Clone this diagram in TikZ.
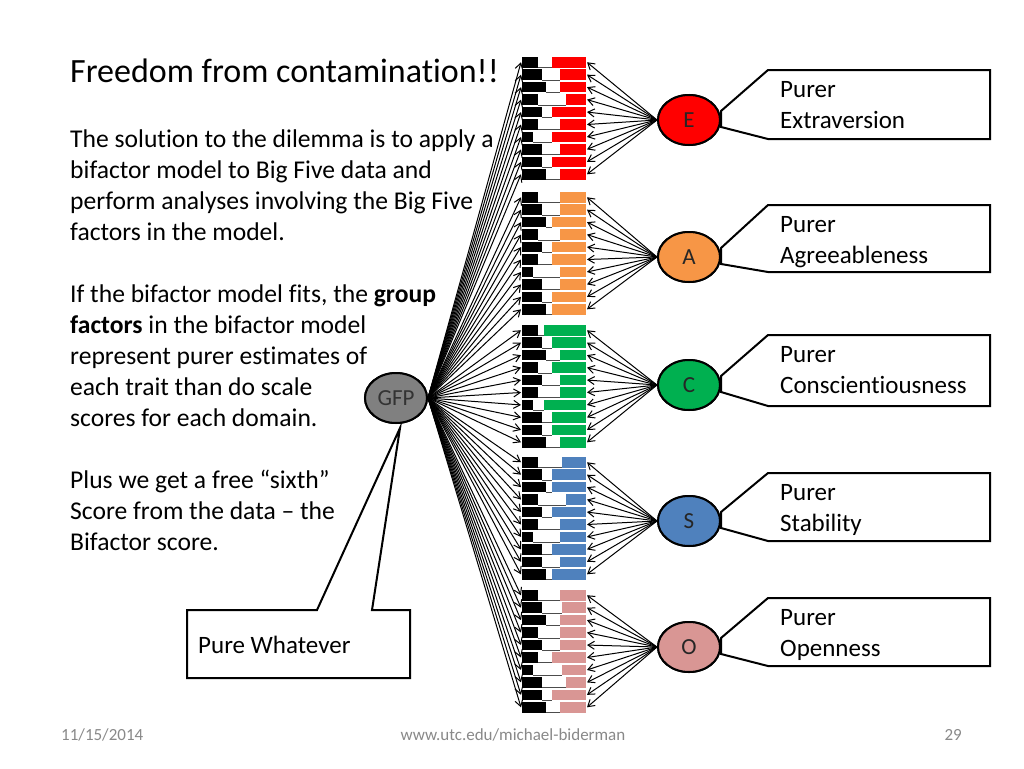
\documentclass[tikz,border=0pt]{standalone}
\usepackage{fontspec}
\setmainfont{Carlito}[Ligatures=NoCommon]
\usetikzlibrary{arrows.meta,calc,shapes.geometric}
\definecolor{cE}{HTML}{FF0000}
\definecolor{cA}{HTML}{F79646}
\definecolor{cC}{HTML}{00B050}
\definecolor{cS}{HTML}{4F81BD}
\definecolor{cO}{HTML}{D99694}
\definecolor{gfpgray}{HTML}{808080}
\definecolor{footgray}{HTML}{898989}
\tikzset{
  body/.style={anchor=base west,inner sep=0pt,font=\fontsize{25.6}{31}\selectfont},
  factor/.style={ellipse,draw=black,line width=2pt,minimum width=62pt,minimum height=50pt,inner sep=0pt,font=\fontsize{23}{26}\selectfont},
  load/.style={line width=1pt,-{Straight Barb[length=6.5pt,width=8pt]}},
  callout/.style={draw=black,line width=2pt,fill=white,line join=miter},
  calltext/.style={anchor=base west,inner sep=0pt,font=\fontsize{25}{30}\selectfont},
  foot/.style={anchor=base,inner sep=0pt,text=footgray,font=\fontsize{17}{20}\selectfont}
}
\newcommand\drawgroup[4]{%
  \foreach \i/\b/\c in {#4}{%
    \pgfmathsetmacro\yy{#2+\i*12.45}%
    \fill[white] (522,\yy) rectangle (586,\yy+10.5);
    \fill[black] (522,\yy) rectangle (522+\b,\yy+10.5);
    \fill[#3] (522+\c,\yy) rectangle (586,\yy+10.5);
    \draw[black!70,line width=0.6pt] (522+\b,\yy+10.5) -- (522+\c,\yy+10.5);
    \coordinate (#1L\i) at (521,\yy+5.25);
    \coordinate (#1R\i) at (587,\yy+5.25);
  }%
}
\begin{document}
\begin{tikzpicture}[x=1pt,y=-1pt]
\useasboundingbox[fill=white] (0,0) rectangle (1024,768);

% left text
\node[anchor=base west,inner sep=0pt,font=\fontsize{34}{40}\selectfont] (title) at (70,82) {Freedom from contamination!!};
\node[body] (p1) at (70,147) {The solution to the dilemma is to apply a};
\node[body] (p2) at (70,178) {bifactor model to Big Five data and};
\node[body] (p3) at (70,209) {perform analyses involving the Big Five};
\node[body] (p4) at (70,240) {factors in the model.};
\node[body] (q1) at (70,302) {If the bifactor model fits, the \textbf{group}};
\node[body] (q2) at (70,333) {\textbf{factors} in the bifactor model};
\node[body] (q3) at (70,364) {represent purer estimates of};
\node[body] (q4) at (70,395) {each trait than do scale};
\node[body] (q5) at (70,426) {scores for each domain.};
\node[body] (r1) at (70,488) {Plus we get a free “sixth”};
\node[body] (r2) at (70,519) {Score from the data – the};
\node[body] (r3) at (70,550) {Bifactor score.};

% factor nodes
\node[factor,fill=gfpgray,text=black!80] (GFP) at (396,398) {};
\node[factor,fill=cE] (E) at (689,120) {};
\node[factor,fill=cA] (A) at (689,257) {};
\node[factor,fill=cC] (C) at (689,385) {};
\node[factor,fill=cS] (S) at (689,521) {};
\node[factor,fill=cO] (O) at (689,647) {};

% items
\drawgroup{E}{57}{cE}{0/16/30,1/20/38,2/24/38,3/16/44,4/20/30,5/16/38,6/11/30,7/20/38,8/20/30,9/24/38}
\drawgroup{A}{192}{cA}{0/16/38,1/20/38,2/24/30,3/16/38,4/20/30,5/16/30,6/11/38,7/20/38,8/20/30,9/24/30}
\drawgroup{C}{325}{cC}{0/16/22,1/20/30,2/24/38,3/16/30,4/20/38,5/16/38,6/11/22,7/20/30,8/20/30,9/24/38}
\drawgroup{S}{457}{cS}{0/16/40,1/20/30,2/24/30,3/16/44,4/20/30,5/16/38,6/11/38,7/20/30,8/20/38,9/24/30}
\drawgroup{O}{590}{cO}{0/16/38,1/20/40,2/24/38,3/16/38,4/20/38,5/16/30,6/11/40,7/20/44,8/20/30,9/24/38}

% loadings
\foreach \g in {E,A,C,S,O}{
  \foreach \i in {0,...,9}{
    \draw[load] (GFP.east) -- (\g L\i);
    \draw[load] (\g.west) -- (\g R\i);
  }
}
% nodes drawn on top of the connectors
\node[factor,fill=gfpgray,text=black!80] (GFPlabel) at (GFP) {GFP};
\foreach \g/\c in {E/cE,A/cA,C/cC,S/cS,O/cO}{
  \node[factor,fill=\c,text=black!85] (\g label) at (\g) {\g};
}

% callouts for factors
\foreach \g/\t/\b/\txt in {E/70/139/Extraversion,A/205/272/Agreeableness,C/335/406/Conscientiousness,S/473/541/Stability,O/598/666/Openness}{
  \draw[callout] (768,\t) -- (990,\t) -- (990,\b) -- (768,\b) -- ($(\g.east)+(0,7)$) -- ($(\g.east)+(0,-9)$) -- cycle;
  \node[calltext] (\g box1) at (780,\t+27) {Purer};
  \node[calltext] (\g box2) at (780,\t+58) {\txt};
}

% Pure Whatever callout
\draw[callout] (187,610) -- (317,610) -- ($(GFP.south)+(4,4)$) -- (372,610) -- (410,610) -- (410,678) -- (187,678) -- cycle;
\node[anchor=base west,inner sep=0pt,font=\fontsize{25}{30}\selectfont] (pw) at (198,653) {Pure Whatever};

% footer
\node[foot,anchor=base west] (date) at (61,740) {11/15/2014};
\node[foot] (url) at (513,740) {www.utc.edu/michael-biderman};
\node[foot,anchor=base east] (page) at (962,740) {29};
\end{tikzpicture}
\end{document}
